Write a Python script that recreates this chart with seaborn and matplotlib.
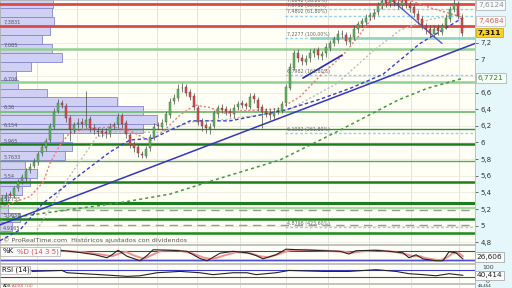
import numpy as np
import matplotlib
matplotlib.use("Agg")
import matplotlib.pyplot as plt
import matplotlib.transforms as mtransforms
from matplotlib.patches import Rectangle
from matplotlib.ticker import FuncFormatter
import seaborn as sns

sns.set_theme(style="white")
plt.rcParams['font.family'] = ['DejaVu Sans']

# ---------------- data ----------------
opens = [5.30, 5.33, 5.38, 5.36, 5.45, 5.53, 5.57, 5.67, 5.72, 5.76,
         5.87, 5.93, 6.03, 6.19, 6.38, 6.48, 6.44, 6.30, 6.15, 6.22,
         6.25, 6.21, 6.28, 6.18, 6.14, 6.14, 6.13, 6.10, 6.20, 6.22,
         6.32, 6.23, 6.09, 5.98, 5.94, 5.86, 5.84, 5.93, 6.06, 6.21,
         6.19, 6.25, 6.33, 6.50, 6.53, 6.65, 6.67, 6.61, 6.56, 6.42,
         6.26, 6.21, 6.16, 6.20, 6.34, 6.42, 6.40, 6.38, 6.34, 6.43,
         6.47, 6.46, 6.43, 6.56, 6.51, 6.43, 6.38, 6.36, 6.32, 6.38,
         6.38, 6.47, 6.66, 6.90, 7.08, 7.02, 6.97, 7.01, 7.07, 7.11,
         7.04, 7.07, 7.14, 7.20, 7.23, 7.31, 7.29, 7.21, 7.27, 7.36,
         7.43, 7.45, 7.51, 7.52, 7.57, 7.64, 7.71, 7.67, 7.73, 7.68,
         7.65, 7.71, 7.66, 7.63, 7.55, 7.48, 7.40, 7.37, 7.31, 7.38,
         7.33, 7.41, 7.49, 7.61, 7.66, 7.50]
closes = [5.33, 5.36, 5.37, 5.45, 5.52, 5.58, 5.66, 5.71, 5.77, 5.86,
          5.94, 6.02, 6.20, 6.37, 6.47, 6.45, 6.29, 6.16, 6.21, 6.24,
          6.22, 6.27, 6.17, 6.15, 6.13, 6.12, 6.11, 6.19, 6.21, 6.31,
          6.22, 6.10, 5.97, 5.93, 5.87, 5.85, 5.92, 6.07, 6.19, 6.20,
          6.24, 6.34, 6.49, 6.54, 6.64, 6.66, 6.60, 6.55, 6.43, 6.25,
          6.20, 6.17, 6.19, 6.35, 6.41, 6.39, 6.37, 6.35, 6.42, 6.46,
          6.45, 6.44, 6.55, 6.52, 6.42, 6.37, 6.35, 6.33, 6.37, 6.39,
          6.46, 6.67, 6.91, 7.07, 7.01, 6.98, 7.00, 7.08, 7.10, 7.05,
          7.06, 7.15, 7.19, 7.24, 7.30, 7.30, 7.22, 7.26, 7.37, 7.42,
          7.46, 7.50, 7.53, 7.56, 7.65, 7.70, 7.68, 7.72, 7.69, 7.66,
          7.70, 7.67, 7.62, 7.56, 7.47, 7.41, 7.36, 7.32, 7.37, 7.34,
          7.40, 7.50, 7.60, 7.67, 7.52, 7.311]
highs = [5.37, 5.40, 5.42, 5.48, 5.56, 5.62, 5.69, 5.75, 5.81, 5.90,
         5.98, 6.06, 6.24, 6.41, 6.52, 6.51, 6.47, 6.33, 6.25, 6.29,
         6.29, 6.62, 6.32, 6.22, 6.19, 6.18, 6.17, 6.23, 6.25, 6.35,
         6.36, 6.27, 6.12, 6.02, 5.98, 5.90, 5.96, 6.10, 6.23, 6.25,
         6.28, 6.38, 6.53, 6.58, 6.70, 6.72, 6.70, 6.64, 6.59, 6.45,
         6.30, 6.25, 6.23, 6.39, 6.45, 6.46, 6.44, 6.42, 6.46, 6.50,
         6.51, 6.49, 6.60, 6.59, 6.55, 6.46, 6.42, 6.40, 6.41, 6.43,
         6.50, 6.70, 6.95, 7.11, 7.12, 7.06, 7.05, 7.12, 7.14, 7.15,
         7.10, 7.19, 7.23, 7.28, 7.35, 7.35, 7.33, 7.31, 7.41, 7.46,
         7.50, 7.54, 7.57, 7.60, 7.69, 7.75, 7.75, 7.77, 7.77, 7.72,
         7.75, 7.75, 7.70, 7.67, 7.59, 7.52, 7.44, 7.41, 7.41, 7.42,
         7.44, 7.54, 7.64, 7.72, 7.70, 7.54]
lows = [5.26, 5.30, 5.33, 5.33, 5.42, 5.50, 5.54, 5.63, 5.69, 5.73,
        5.84, 5.90, 6.00, 6.16, 6.35, 6.41, 6.25, 6.02, 6.11, 6.18,
        6.18, 6.17, 6.13, 6.10, 6.08, 6.07, 6.06, 6.07, 6.16, 6.18,
        6.18, 6.06, 5.93, 5.89, 5.83, 5.81, 5.81, 5.90, 6.03, 6.16,
        6.15, 6.21, 6.30, 6.46, 6.50, 6.61, 6.56, 6.51, 6.39, 6.21,
        6.14, 6.11, 6.10, 6.17, 6.30, 6.35, 6.33, 6.31, 6.30, 6.39,
        6.41, 6.40, 6.40, 6.48, 6.38, 6.18, 6.31, 6.27, 6.28, 6.34,
        6.35, 6.44, 6.63, 6.87, 6.97, 6.93, 6.93, 6.97, 7.03, 7.00,
        6.99, 7.03, 7.10, 7.16, 7.19, 7.25, 7.17, 7.17, 7.23, 7.32,
        7.39, 7.41, 7.47, 7.48, 7.53, 7.60, 7.63, 7.63, 7.64, 7.61,
        7.61, 7.62, 7.57, 7.51, 7.42, 7.36, 7.31, 7.27, 7.27, 7.29,
        7.29, 7.37, 7.45, 7.57, 7.48, 7.28]

# volume profile (price bin centre, relative volume)
vp_price = [7.665, 7.558, 7.451, 7.344, 7.237, 7.130, 7.023, 6.916, 6.809, 6.702,
            6.595, 6.488, 6.381, 6.274, 6.167, 6.060, 5.953, 5.846, 5.739, 5.632,
            5.525, 5.418, 5.311, 5.204, 5.097, 4.990]
vp_volume = [53, 52, 54, 50, 42, 52, 62, 31, 16, 18,
             47, 117, 143, 157, 143, 63, 72, 65, 25, 37,
             30, 22, 8, 8, 20, 12]
vp_label_text = ["7,3831", "7,085", "6,706", "6,36", "6,154", "5,965",
                 "5,7633", "5,54", "5,2735", "5,0658", "4,9165"]
vp_label_price = [7.448, 7.172, 6.763, 6.427, 6.210, 6.018,
                  5.826, 5.598, 5.322, 5.129, 4.973]

red_levels = [7.665, 7.406]
green_levels = [7.12, 6.724, 6.363, 6.159, 5.978, 5.778, 5.530, 5.276, 5.216, 5.080, 4.916]
green_partial_level = 7.25
gray_dash_levels = [5.189, 5.009]
fib_levels = [7.601, 7.524, 7.252, 6.811, 6.111, 4.981]
fib_label_text = ["7,6842 (38,20%)", "7,5752 (50,00%)", "7,4802 (61,80%)",
                  "7,2277 (100,00%)", "6,7982 (161,80%)", "6,1032 (261,80%)",
                  "4,8798 (423,60%)"]
fib_label_price = [7.701, 7.641, 7.569, 7.304, 6.859, 6.162, 5.032]

ma_red_x = [-0.5, 7, 10.25, 12, 14.5, 17, 22, 27.75, 32, 37, 40.25, 44.5, 48.25, 52,
            55.75, 59.5, 64.5, 69.5, 74.5, 79.5, 85.25, 89.5, 93.25, 97, 102, 107, 112, 115.25]
ma_red_y = [5.22, 5.35, 5.52, 5.75, 5.97, 6.12, 6.17, 6.19, 6.14, 6.02, 6.13, 6.33, 6.45, 6.42,
            6.35, 6.38, 6.39, 6.41, 6.55, 6.80, 7.05, 7.30, 7.55, 7.70, 7.71, 7.62, 7.55, 7.50]
ma_gray_x = [8.75, 16.25, 23.75, 28.75, 39.5, 47.75, 54.5, 64.5, 72, 83.75, 92.75, 99.5, 107, 115.25]
ma_gray_y = [4.95, 5.55, 6.07, 6.13, 6.12, 6.25, 6.27, 6.33, 6.40, 6.71, 7.10, 7.35, 7.48, 7.55]
ma_blue_x = [-0.5, 4.5, 10.25, 18.75, 27, 32, 37.75, 47, 57, 64.5, 70.75, 79.5, 87, 95.25, 104.5, 115.25]
ma_blue_y = [4.82, 4.95, 5.27, 5.585, 5.886, 6.03, 6.05, 6.26, 6.26, 6.33, 6.39, 6.52, 6.65, 6.82, 7.19, 7.50]
ma_green_x = [-0.5, 4.5, 16.25, 28.75, 42, 54.5, 69.5, 83.75, 99, 106.25, 115.25]
ma_green_y = [5.08, 5.11, 5.19, 5.27, 5.38, 5.57, 5.79, 6.13, 6.51, 6.65, 6.7721]

trend_main_x = [-0.5, 118.25]
trend_main_y = [5.01, 7.19]
trend_down_x = [97.75, 110]
trend_down_y = [7.70, 7.19]
trend_short_x = [75.25, 85]
trend_short_y = [6.775, 7.05]

stoch_k_x = [14.5, 19.5, 23.25, 26.25, 27.5, 29, 31.25, 34.5, 36.25, 37.75, 42, 46.25, 49.5,
             51.25, 54.5, 57.75, 61.25, 63.5, 65.25, 68.5, 71, 74.5, 80.25, 84.5, 86.75, 88.5,
             93.25, 96.75, 100.25, 101.75, 103.5, 105.25, 108.5, 110.25, 111.75, 113.5, 115.25]
stoch_k = [85, 70, 55, 35, 55, 85, 45, 15, 50, 88, 85, 78, 30,
           15, 65, 78, 68, 50, 28, 55, 92, 88, 82, 78, 60, 82,
           85, 78, 68, 35, 55, 27, 15, 15, 75, 68, 26.606]
stoch_d_x = [14.5, 20.5, 24.5, 27.5, 29.5, 31, 33, 35.5, 38, 40, 44, 47.5, 50.5, 52.5, 55.5,
             58.5, 62, 64.5, 66.5, 69.5, 72, 76, 81, 85.5, 87.5, 90, 94, 98, 101, 102.75,
             104.5, 106, 109.5, 111.5, 112.5, 114, 115.25]
stoch_d = [82, 72, 58, 45, 65, 75, 50, 28, 60, 82, 84, 65, 35, 25, 50,
           72, 66, 45, 38, 62, 85, 88, 82, 75, 68, 78, 84, 75, 58, 45,
           45, 32, 18, 40, 62, 70, 45]

rsi_x = [7.5, 15, 16.25, 24.5, 31.25, 34.5, 38.75, 44.5, 49.5, 52.75, 57.75, 61.25, 63.5,
         68.5, 71.75, 80.25, 86.75, 93.5, 98.5, 101.75, 105.25, 108.5, 111.75, 115.25]
rsi = [61, 66, 54, 44, 35, 38, 54, 61, 54, 44, 54, 54, 44,
       54, 66, 61, 61, 70, 61, 49, 44, 38, 49, 40.414]

last_price = "7,311"

# ---------------- layout ----------------
W, H = 512, 288
fig = plt.figure(figsize=(W / 100, H / 100), dpi=100)
fig.patch.set_facecolor('#e6f7fc')


def box(l, t, w, h):
    return [l / W, 1 - (t + h) / H, w / W, h / H]


ax = fig.add_axes(box(0, 0, 475, 244))
axk = fig.add_axes(box(0, 245, 475, 18))
axr = fig.add_axes(box(0, 264, 475, 19))
axa = fig.add_axes(box(0, 284, 475, 12))

XMIN, XMAX = -0.5, 118.25
vgrid = [8.75, 18.75, 29, 38.75, 48.75, 59.5, 71, 81.5, 91.75, 102.25, 114.25]
for a in (ax, axk, axr, axa):
    a.set_facecolor('#fffff5')
    for s in a.spines.values():
        s.set_color('#b8b8b8')
        s.set_linewidth(0.6)
    a.set_xlim(XMIN, XMAX)
    a.set_xticks([])
    for g in vgrid:
        a.axvline(g, color='#e3e3db', lw=0.7, zorder=0.5)

# ---------------- main price panel ----------------
ax.set_ylim(4.780, 7.7127)
grid_ticks = [4.8, 5.0, 5.2, 5.4, 5.6, 5.8, 6.0, 6.2, 6.4, 6.6, 6.8, 7.0, 7.2, 7.4, 7.6]
for t in grid_ticks:
    ax.axhline(t, color='#ebebe3', lw=0.6, zorder=0.5)
ax.yaxis.tick_right()
ax.set_yticks([4.8, 5.0, 5.2, 5.4, 5.6, 5.8, 6.0, 6.2, 6.4, 6.6, 7.0, 7.2])
ax.yaxis.set_major_formatter(FuncFormatter(lambda v, p: ('%g' % round(v, 1)).replace('.', ',')))
ax.tick_params(axis='y', right=True, left=False, length=2.5, width=0.6, color='#555',
               pad=1.5, labelsize=5, labelcolor='#333')

# volume profile
ax.barh(vp_price, np.array(vp_volume) / 4.0, height=0.107, left=XMIN,
        color='#cfd0f4', edgecolor='#8484d4', linewidth=0.6, zorder=1.5)
for txt, pr in zip(vp_label_text, vp_label_price):
    ax.text(0.3, pr, txt, fontsize=3.6, color='#555', va='center', ha='left', zorder=2)

# horizontal levels
green_styles = [('#92d092', 1.8), ('#92d092', 1.8), ('#7cc07c', 1.4), ('#2e8b2e', 1.0),
                ('#1a7f1a', 1.8), ('#5aaa5a', 1.0), ('#1a7f1a', 1.8), ('#1a7f1a', 2.2),
                ('#92d092', 1.2), ('#1a7f1a', 1.8), ('#1a8a1a', 1.8)]
for lvl, (col, lw) in zip(green_levels, green_styles):
    ax.axhline(lvl, color=col, lw=lw, zorder=3)
ax.hlines(green_partial_level, 77, XMAX, color='#92d092', lw=1.8, zorder=3)
ax.hlines(gray_dash_levels, 14, XMAX, color='#9a9a9a', lw=1.0, linestyles=(0, (6, 4)), zorder=3)
ax.hlines(fib_levels, 70.75, XMAX, color='#8fd3f2', lw=1.0, linestyles=(0, (2, 1.5)), zorder=3)
for lvl in red_levels:
    ax.axhline(lvl, color='#e04848', lw=2.0, zorder=3.2)
for txt, pr in zip(fib_label_text, fib_label_price):
    ax.text(71.25, pr, txt, fontsize=3.4, color='#666', va='center', ha='left', zorder=7)

# moving averages
sns.lineplot(x=ma_green_x, y=ma_green_y, ax=ax, color='#3f9a3f', lw=1.1,
             linestyle=(0, (2, 2)), zorder=4)
sns.lineplot(x=ma_gray_x, y=ma_gray_y, ax=ax, color='#bdbdbd', lw=1.0,
             linestyle=(0, (1.5, 1.5)), zorder=4)
sns.lineplot(x=ma_blue_x, y=ma_blue_y, ax=ax, color='#3c3cd8', lw=1.0,
             linestyle=(0, (2.5, 1.8)), zorder=4)
sns.lineplot(x=ma_red_x, y=ma_red_y, ax=ax, color='#f07a7a', lw=1.0,
             linestyle=(0, (1.5, 1.5)), zorder=4)

# trend lines
ax.plot(trend_main_x, trend_main_y, color='#3535c0', lw=1.1, zorder=4.5)
ax.plot(trend_down_x, trend_down_y, color='#5a5ad8', lw=1.0, zorder=4.5)
ax.plot(trend_short_x, trend_short_y, color='#2828b0', lw=1.2, zorder=4.5)

# candles
o = np.array(opens)
c = np.array(closes)
h = np.array(highs)
l = np.array(lows)
idx = np.arange(len(c))
up = c >= o
ax.vlines(idx, l, h, color='#4a4a4a', lw=0.5, zorder=5)
ax.bar(idx, np.maximum(np.abs(c - o), 0.01), bottom=np.minimum(o, c), width=0.55,
       color=np.where(up, '#63b863', '#d95050'),
       edgecolor=np.where(up, '#2d6a2d', '#8a2a2a'), linewidth=0.3, zorder=6)
ax.set_xlabel('')
ax.set_ylabel('')

ax.text(3 / 475, 4 / 244, '© ProRealTime.com  Históricos ajustados con dividendos',
        transform=ax.transAxes, fontsize=4.6, color='#555', va='center', ha='left', zorder=8)

# right-hand value boxes
trans = mtransforms.blended_transform_factory(ax.transAxes, ax.transData)


def pbox(price, text, fc, tc, ec, bold=False):
    ax.text(1.006, price, text, transform=trans, ha='left', va='center', fontsize=5.3,
            color=tc, fontweight='bold' if bold else 'normal', clip_on=False, zorder=10,
            bbox=dict(boxstyle='square,pad=0.25', fc=fc, ec=ec, lw=0.5))


pbox(7.653, '7,6124', '#f4fbfd', '#909090', '#a8a8a8')
pbox(7.460, '7,4684', '#fbfdfd', '#e05a5a', '#b8b8b8')
pbox(7.322, last_price, '#ffd21f', '#111', '#c8a000', bold=True)
pbox(6.775, '6,7721', '#f6fcf6', '#2e8a2e', '#a8a8a8')

# ---------------- stochastic panel ----------------
axk.set_ylim(0, 120)
axk.set_yticks([])
axk.axhline(80, color='#3a3acc', lw=0.8, zorder=1)
axk.axhline(20, color='#b4b4ee', lw=2.0, zorder=1)
axk.axhline(20, color='#3a3acc', lw=0.6, zorder=1)
sns.lineplot(x=stoch_d_x, y=stoch_d, ax=axk, color='#f29090', lw=1.4, zorder=2)
sns.lineplot(x=stoch_k_x, y=stoch_k, ax=axk, color='#222', lw=0.8, zorder=3)
axk.set_xlabel('')
axk.set_ylabel('')
axk.add_patch(Rectangle((0.0, 0.39), 60 / 475, 0.5, transform=axk.transAxes,
                        fc='#fcfcfc', ec='#aaaaaa', lw=0.5, zorder=5))
axk.text(3 / 475, 0.64, '%K', transform=axk.transAxes, fontsize=5, color='#111',
         va='center', ha='left', zorder=6)
axk.text(17 / 475, 0.64, '%D (14 3 5)', transform=axk.transAxes, fontsize=5,
         color='#e04848', va='center', ha='left', zorder=6)
axk.text(1.004, 0.33, '26,606', transform=axk.transAxes, fontsize=5.3, color='#222',
         va='center', ha='left', clip_on=False, zorder=10,
         bbox=dict(boxstyle='square,pad=0.25', fc='#fbfdfd', ec='#999', lw=0.5))

# ---------------- RSI panel ----------------
axr.set_ylim(0, 100)
axr.set_yticks([])
axr.axhline(70, color='#3a3acc', lw=0.8, zorder=1)
axr.axhline(30, color='#3a3acc', lw=0.8, zorder=1)
sns.lineplot(x=rsi_x, y=rsi, ax=axr, color='#222', lw=0.8, zorder=3)
axr.set_xlabel('')
axr.set_ylabel('')
axr.add_patch(Rectangle((0.0, 0.47), 30 / 475, 0.43, transform=axr.transAxes,
                        fc='#fcfcfc', ec='#aaaaaa', lw=0.5, zorder=5))
axr.text(2.5 / 475, 0.68, 'RSI (14)', transform=axr.transAxes, fontsize=5, color='#111',
         va='center', ha='left', zorder=6)
axr.text(1.016, 0.84, '100', transform=axr.transAxes, fontsize=4.5, color='#444',
         va='center', ha='left', clip_on=False, zorder=9)
axr.text(1.022, 0.08, '0', transform=axr.transAxes, fontsize=4.5, color='#444',
         va='center', ha='left', clip_on=False, zorder=9)
axr.text(1.004, 0.40, '40,414', transform=axr.transAxes, fontsize=5.3, color='#222',
         va='center', ha='left', clip_on=False, zorder=10,
         bbox=dict(boxstyle='square,pad=0.25', fc='#fbfdfd', ec='#999', lw=0.5))

# ---------------- ADX panel (only its top strip is visible) ----------------
axa.set_ylim(0, 100)
axa.set_yticks([])
axa.text(3 / 475, 0.82, 'ADX', transform=axa.transAxes, fontsize=2.9, color='#111',
         va='center', ha='left', zorder=6)
axa.text(12 / 475, 0.82, 'ADXR (14)', transform=axa.transAxes, fontsize=2.9,
         color='#e04848', va='center', ha='left', zorder=6)
axa.text(1.006, 0.82, '44,454', transform=axa.transAxes, fontsize=2.9, color='#222',
         va='center', ha='left', clip_on=False, zorder=10)

fig.savefig('out.png', dpi=100, facecolor=fig.get_facecolor())
